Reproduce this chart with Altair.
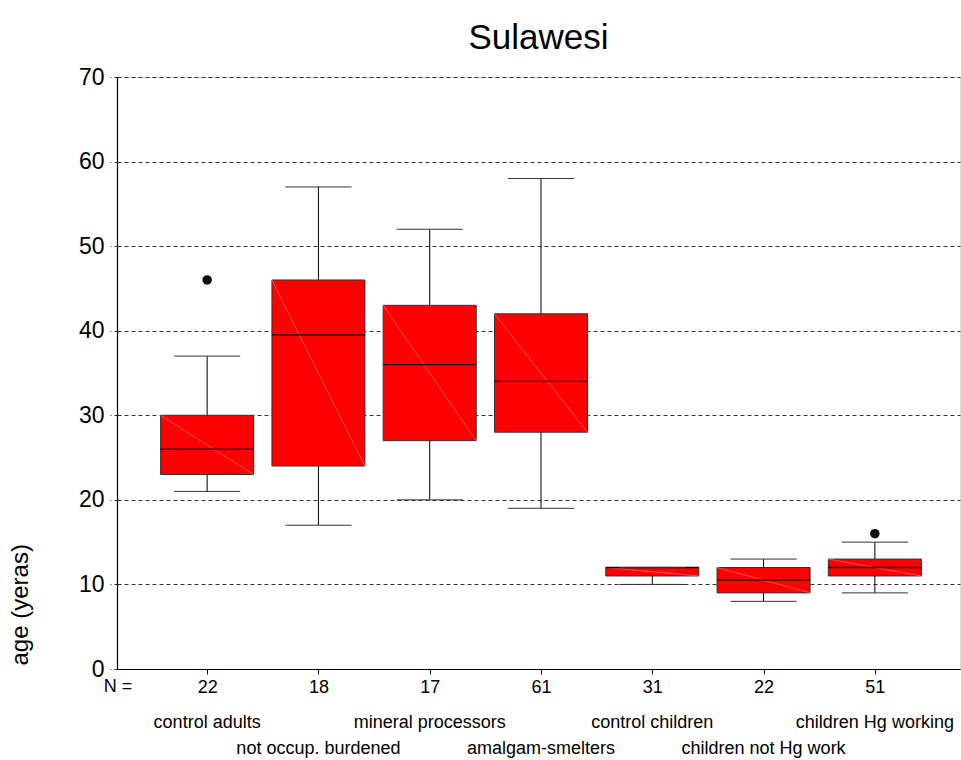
import altair as alt
import pandas as pd

# ---- data ----
categories = ["control adults", "not occup. burdened", "mineral processors",
              "amalgam-smelters", "control children", "children not Hg work",
              "children Hg working"]
n_values = [22, 18, 17, 61, 31, 22, 51]
whisker_low = [21, 17, 20, 19, 10, 8, 9]
q1 = [23, 24, 27, 28, 11, 9, 11]
median = [26, 39.5, 36, 34, 12, 10.5, 12]
q3 = [30, 46, 43, 42, 12, 12, 13]
whisker_high = [37, 57, 52, 58, 12, 13, 15]
outlier_group = [1, 7]
outlier_value = [46, 16]
y_ticks = [0, 10, 20, 30, 40, 50, 60, 70]

FONT = "Liberation Sans"

df = pd.DataFrame({
    "idx": list(range(1, len(categories) + 1)),
    "cat": categories,
    "n": n_values,
    "lo": whisker_low,
    "q1": q1,
    "med": median,
    "q3": q3,
    "hi": whisker_high,
})
out_df = pd.DataFrame({"idx": outlier_group, "val": outlier_value})

BOX_HALF = 0.418
CAP_HALF = 0.297

xs = alt.Scale(domain=[0.19, 7.765], nice=False, zero=False)
ys = alt.Scale(domain=[0, 70], nice=False, zero=True)

base = alt.Chart(df).transform_calculate(
    xl=f"datum.idx - {BOX_HALF}", xr=f"datum.idx + {BOX_HALF}",
    cl=f"datum.idx - {CAP_HALF}", cr=f"datum.idx + {CAP_HALF}",
)

n_label_expr = "[" + ",".join(["''"] + [f"'{v}'" for v in n_values]) + "][datum.value]"

x_axis = alt.Axis(values=list(range(1, len(categories) + 1)), labelExpr=n_label_expr,
                  grid=False, domainColor="#000", domainWidth=1.2, tickColor="#000",
                  tickSize=5, labelFont=FONT, labelFontSize=18, labelColor="#000",
                  labelPadding=4, title=None, labelAngle=0)
y_axis = alt.Axis(values=y_ticks, grid=True, gridDash=[4, 3], gridColor="#333",
                  gridWidth=1, domainColor="#000", domainWidth=1.2,
                  tickColor="#333", tickDash=[3, 3], tickSize=7, labelPadding=6,
                  labelFont=FONT, labelFontSize=23, labelColor="#000",
                  title="age (yeras)", titleFont=FONT, titleFontSize=24,
                  titleFontWeight="normal", titleColor="#000", titleAngle=-90,
                  titleAlign="left", titleBaseline="middle", titleX=-97, titleY=588)

boxes = base.mark_rect(color="#ff0000", stroke="#333", strokeWidth=1).encode(
    x=alt.X("xl:Q", scale=xs, axis=x_axis), x2="xr:Q",
    y=alt.Y("q1:Q", scale=ys, axis=y_axis), y2="q3:Q",
)
diag = base.mark_rule(color="#ff6a6a", strokeWidth=0.8).encode(
    x=alt.X("xl:Q", scale=xs), x2="xr:Q",
    y=alt.Y("q3:Q", scale=ys), y2="q1:Q",
)
med = base.mark_rule(color="#200000", strokeWidth=1.3).encode(
    x=alt.X("xl:Q", scale=xs), x2="xr:Q", y=alt.Y("med:Q", scale=ys),
)
whisk_up = base.mark_rule(color="#000", strokeWidth=1).encode(
    x=alt.X("idx:Q", scale=xs), y=alt.Y("q3:Q", scale=ys), y2="hi:Q",
)
whisk_dn = base.mark_rule(color="#000", strokeWidth=1).encode(
    x=alt.X("idx:Q", scale=xs), y=alt.Y("lo:Q", scale=ys), y2="q1:Q",
)
cap_up = base.mark_rule(color="#333", strokeWidth=1).encode(
    x=alt.X("cl:Q", scale=xs), x2="cr:Q", y=alt.Y("hi:Q", scale=ys),
)
cap_dn = base.mark_rule(color="#333", strokeWidth=1).encode(
    x=alt.X("cl:Q", scale=xs), x2="cr:Q", y=alt.Y("lo:Q", scale=ys),
)
outliers = alt.Chart(out_df).mark_point(filled=True, color="#111", size=90, opacity=1).encode(
    x=alt.X("idx:Q", scale=xs), y=alt.Y("val:Q", scale=ys),
)

n_eq = alt.Chart(pd.DataFrame({"t": ["N ="]})).mark_text(
    font=FONT, fontSize=18, color="#000", baseline="top", align="center"
).encode(text="t:N", x=alt.value(1), y=alt.value(601))

cat_row1 = base.transform_filter("datum.idx % 2 == 1").mark_text(
    font=FONT, fontSize=18, color="#000", baseline="middle", align="center"
).encode(x=alt.X("idx:Q", scale=xs), y=alt.value(646), text="cat:N")
cat_row2 = base.transform_filter("datum.idx % 2 == 0").mark_text(
    font=FONT, fontSize=18, color="#000", baseline="middle", align="center"
).encode(x=alt.X("idx:Q", scale=xs), y=alt.value(672), text="cat:N")

chart = alt.layer(
    boxes, diag, med, whisk_up, whisk_dn, cap_up, cap_dn, outliers,
    n_eq, cat_row1, cat_row2,
).properties(
    width=843, height=592,
    title=alt.Title("Sulawesi", font=FONT, fontSize=35, fontWeight="normal",
                    color="#000", anchor="middle", offset=10),
    autosize=alt.AutoSizeParams(type="none"),
    padding={"left": 117, "top": 77, "right": 1, "bottom": 91},
).configure_view(stroke=None).configure(background="white")

chart.save("out.html", embed_options={"renderer": "svg", "actions": False})
